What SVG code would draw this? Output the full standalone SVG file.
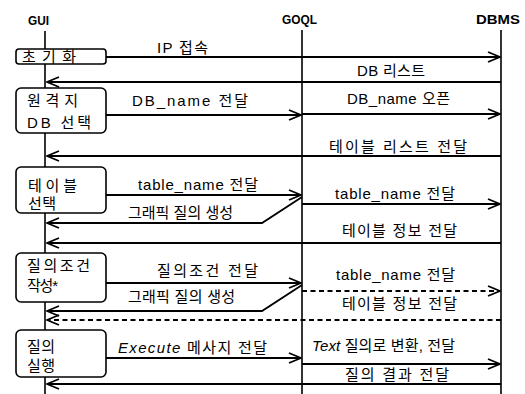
<svg xmlns="http://www.w3.org/2000/svg" width="525" height="394" viewBox="0 0 525 394">
<defs>
<marker id="arr" viewBox="0 0 14 12" refX="13" refY="6" markerWidth="14" markerHeight="12" markerUnits="userSpaceOnUse" orient="auto">
<path d="M1,1 L13,6 L1,11" fill="none" stroke="#000" stroke-width="1.8"/>
</marker>
</defs>
<style>
text{font-family:"Liberation Sans","Noto Sans CJK KR",sans-serif;font-size:15px;fill:#000}
.t{font-weight:bold;font-size:13px}
.l{fill:none;stroke:#000;stroke-width:1.6}
.m{fill:none;stroke:#000;stroke-width:1.8;marker-end:url(#arr)}
.d{stroke-dasharray:5 3.5}
.b{fill:#fff;stroke:#000;stroke-width:1.6}
.i{font-style:italic}
</style>
<rect width="525" height="394" fill="#fff"/>
<g id="lifelines">
<text class="t" x="28" y="25" textLength="21" lengthAdjust="spacingAndGlyphs">GUI</text>
<text class="t" x="282" y="24" textLength="35" lengthAdjust="spacingAndGlyphs">GOQL</text>
<text class="t" x="476" y="24" textLength="44" lengthAdjust="spacingAndGlyphs">DBMS</text>
<line class="l" x1="45" y1="31" x2="45" y2="394"/>
<line class="l" x1="302" y1="30" x2="302" y2="394"/>
<line class="l" x1="501" y1="30" x2="501" y2="394"/>
</g>
<g id="connectors">
<path class="m" d="M106,57 H500"/>
<text x="157" y="53" textLength="51">IP 접속</text>
<path class="m" d="M501,82 H47"/>
<text x="357" y="76" textLength="68">DB 리스트</text>
<path class="m" d="M106,115 H301"/>
<text x="132" y="106" textLength="116">DB_name 전달</text>
<path class="m" d="M302,114 H500"/>
<text x="347" y="104" textLength="103">DB_name 오픈</text>
<path class="m" d="M501,156 H47"/>
<text x="329" y="152" textLength="138">테이블 리스트 전달</text>
<path class="m" d="M106,195 H301"/>
<text x="138" y="190" textLength="120">table_name 전달</text>
<path class="m" d="M302,204 H500"/>
<text x="335" y="199" textLength="120">table_name 전달</text>
<path class="m" d="M302,197 L262,223 H47"/>
<text x="128" y="218" textLength="105">그래픽 질의 생성</text>
<path class="m" d="M501,243 H47"/>
<text x="342" y="236" textLength="115">테이블 정보 전달</text>
<path class="m" d="M106,283 H301"/>
<text x="157" y="276" textLength="101">질의조건 전달</text>
<path class="m d" d="M302,291 H500"/>
<text x="336" y="280" textLength="119">table_name 전달</text>
<path class="m" d="M302,285 L262,311 H47"/>
<text x="128" y="302" textLength="107">그래픽 질의 생성</text>
<path class="m d" d="M501,320 H47"/>
<text x="342" y="309" textLength="115">테이블 정보 전달</text>
<path class="m" d="M106,358 H301"/>
<text x="118" y="353" textLength="149"><tspan class="i">Execute</tspan> 메사지 전달</text>
<path class="m" d="M302,364 H500"/>
<text x="312" y="351" textLength="143"><tspan class="i">Text</tspan> 질의로 변환, 전달</text>
<path class="m" d="M501,384 H47"/>
<text x="345" y="380" textLength="104">질의 결과 전달</text>
</g>
<g id="init">
<rect class="b" x="16" y="49" width="90" height="15" rx="3"/>
<text x="22" y="62" textLength="54">초기화</text>
</g>
<g id="remote-db-select">
<rect class="b" x="16" y="88" width="90" height="45" rx="5"/>
<text x="27" y="106" textLength="51">원격지</text>
<text x="27" y="128" textLength="64">DB 선택</text>
</g>
<g id="table-select">
<rect class="b" x="16" y="167" width="90" height="46" rx="5"/>
<text x="28" y="191" textLength="49">테이블</text>
<text x="28" y="209" textLength="28">선택</text>
</g>
<g id="condition">
<rect class="b" x="16" y="253" width="90" height="49" rx="5"/>
<text x="27" y="271" textLength="63">질의조건</text>
<text x="27" y="291" textLength="31">작성*</text>
</g>
<g id="execute">
<rect class="b" x="16" y="330" width="90" height="47" rx="5"/>
<text x="27" y="352" textLength="28">질의</text>
<text x="27" y="371" textLength="28">실행</text>
</g>
</svg>
